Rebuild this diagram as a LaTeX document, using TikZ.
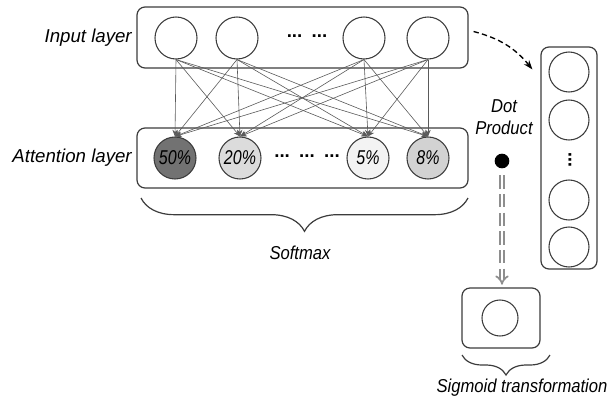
\documentclass[tikz,border=0pt]{standalone}
\usepackage{fontspec}
\setmainfont{Liberation Sans}
\newfontfamily\narrowsf{Liberation Sans}[FakeStretch=0.89]
\newfontfamily\pctsf{Liberation Sans}[FakeStretch=0.8]
\usetikzlibrary{arrows.meta,decorations.pathreplacing,calc}

\definecolor{boxgray}{HTML}{3C3C3C}
\definecolor{linkgray}{HTML}{5A5A5A}
\definecolor{pathgray}{HTML}{8E8E8E}
\definecolor{wA}{HTML}{727272}
\definecolor{wB}{HTML}{DCDCDC}
\definecolor{wC}{HTML}{F3F3F3}
\definecolor{wD}{HTML}{D2D2D2}

\begin{document}
\begin{tikzpicture}[x=0.75pt,y=-0.75pt,
  sidelbl/.style={font=\itshape\fontsize{14}{17}\selectfont, inner sep=0pt},
  lbl/.style={font=\narrowsf\itshape\fontsize{14}{16.5}\selectfont, inner sep=0pt},
  layerbox/.style={draw=boxgray, line width=0.9pt, rounded corners=6pt, inner sep=0pt},
  unit/.style={circle, draw=boxgray, line width=0.8pt, minimum size=31.5pt, inner sep=0pt,
    font=\pctsf\itshape\fontsize{15}{17}\selectfont},
  link/.style={draw=linkgray, line width=0.45pt, -{Stealth[length=5pt,width=4pt]}},
  ellip/.style={font=\bfseries\fontsize{14}{16}\selectfont, inner sep=0pt},
  bracepath/.style={draw=boxgray, line width=0.9pt, decorate,
    decoration={brace, mirror, amplitude=#1}},
  dbl/.style={draw=pathgray, double=white, double distance=2pt, line width=1.3pt,
    dash pattern=on 10pt off 4pt, -{Implies[length=10pt,width=13pt]}},
]
\useasboundingbox (0,0) rectangle (611,405);

% ---- input layer ----
\node[layerbox, minimum width=248.25pt, minimum height=45.75pt] (inbox) at (302.5,37.5) {};
\node[sidelbl, anchor=east] (inlbl) at (132,38) {Input layer};
\node[unit] (i1) at (176,38) {};
\node[unit] (i2) at (237,38) {};
\node[unit] (i3) at (364,38) {};
\node[unit] (i4) at (428,38) {};
\node[ellip] (indots) at (307,36) {...\hspace{7pt}...};

% ---- attention layer ----
\node[layerbox, minimum width=248.25pt, minimum height=45pt] (attbox) at (302.5,158) {};
\node[sidelbl, anchor=east] (attlbl) at (132,158) {Attention layer};
\node[unit, fill=wA] (a1) at (175,158) {50\%};
\node[unit, fill=wB] (a2) at (240,158) {20\%};
\node[unit, fill=wC] (a3) at (368,158) {5\%};
\node[unit, fill=wD] (a4) at (428,158) {8\%};
\node[ellip] (attdots) at (307,156) {...\hspace{7pt}...\hspace{7pt}...};

% full connections from every input unit to every attention unit
\foreach \s in {1,2,3,4}
  \foreach \t in {1,2,3,4}
    \draw[link] (i\s.south) -- (a\t.north);

% ---- softmax brace ----
\coordinate (smL) at (141,198);
\coordinate (smR) at (468,198);
\draw[bracepath=25pt] (smL) -- (smR);
\node[lbl] (smlbl) at (300,253) {Softmax};

% ---- context vector column ----
\node[layerbox, minimum width=42pt, minimum height=166.5pt] (vec) at (569,158) {};
\node[unit, minimum size=30pt] (v1) at (569,72) {};
\node[unit, minimum size=30pt] (v2) at (569,120) {};
\node[unit, minimum size=30pt] (v3) at (569,200) {};
\node[unit, minimum size=30pt] (v4) at (569,247) {};
\node[ellip, rotate=90] (vdots) at (570,160) {...};

\draw[black, line width=1pt, dash pattern=on 4pt off 2.5pt, -{Stealth[length=7pt,width=5pt]}]
  ([shift={(5,-6)}]inbox.east) to[bend left=18] ([shift={(-8,23)}]vec.north west);

% ---- dot product ----
\node[lbl, align=center] (dplbl) at (504,117) {Dot\\Product};
\node[circle, fill=black, minimum size=11pt, inner sep=0pt] (dot) at (502,161) {};

% ---- sigmoid output ----
\node[layerbox, minimum width=58.5pt, minimum height=45pt] (sigbox) at (501,318) {};
\node[unit, minimum size=27pt] (s1) at (500,318) {};
\draw[dbl, shorten <=5pt, shorten >=2pt] (dot) -- (dot |- sigbox.north);

\coordinate (sgL) at (462,355);
\coordinate (sgR) at (550,355);
\draw[bracepath=15pt] (sgL) -- (sgR);
\node[lbl] (sglbl) at (522,388) {Sigmoid transformation};
\end{tikzpicture}
\end{document}
